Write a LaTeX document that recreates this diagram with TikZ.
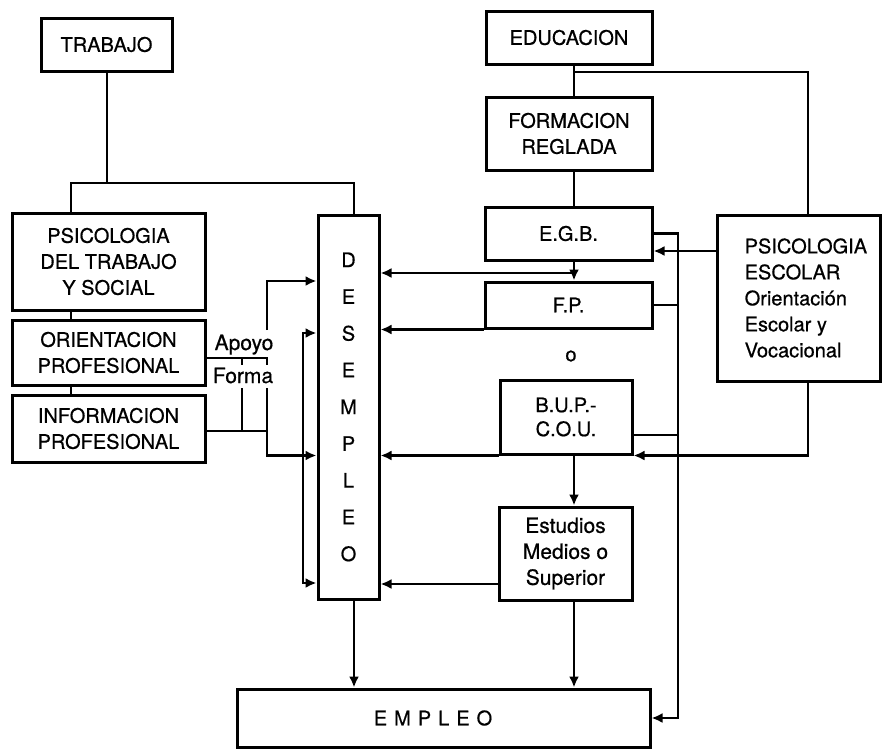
\documentclass[tikz,border=0pt]{standalone}
\usepackage{fontspec}
\setmainfont{TeX Gyre Heros}[FakeBold=0.6]
\usetikzlibrary{arrows.meta}
\begin{document}
\begin{tikzpicture}[x=1pt,y=-1pt,
  box/.style={draw, line width=3pt, inner sep=0pt, align=center, font=\fontsize{20pt}{26pt}\selectfont},
  con/.style={line width=2.8pt},
  arr/.style={con, -{Latex[length=11pt,width=10pt]}},
  arrtwo/.style={con, {Latex[length=11pt,width=10pt]}-{Latex[length=11pt,width=10pt]}},
  lbl/.style={inner sep=0pt, font=\fontsize{20pt}{26pt}\selectfont}]
\fill[white] (0,0) rectangle (883,750);
\useasboundingbox (0,0) rectangle (883,750);

% boxes
\node[box, minimum width=131pt, minimum height=53pt] (trabajo) at (106.5,44.5) {TRABAJO};
\node[box, minimum width=193pt, minimum height=97pt] (psitrab) at (108.5,261.5) {PSICOLOGIA\\DEL TRABAJO\\Y SOCIAL};
\node[box, minimum width=193pt, minimum height=65pt] (orient) at (108.5,352.5) {ORIENTACION\\PROFESIONAL};
\node[box, minimum width=193pt, minimum height=67pt] (inform) at (108.5,428.5) {INFORMACION\\PROFESIONAL};
\node[box, minimum width=61pt, minimum height=384pt, font=\fontsize{20pt}{36.75pt}\selectfont] (desempleo) at (348.5,407) {D\\E\\S\\E\\M\\P\\L\\E\\O};
\node[box, minimum width=166pt, minimum height=53pt] (educ) at (569,37.5) {EDUCACION};
\node[box, minimum width=166pt, minimum height=73pt] (formreg) at (569,133.5) {FORMACION\\REGLADA};
\node[box, minimum width=167pt, minimum height=53pt] (egb) at (568.5,233.5) {E.G.B.};
\node[box, minimum width=167pt, minimum height=46pt] (fp) at (568.5,305) {F.P.};
\node[lbl] (o) at (571,356) {o};
\node[box, minimum width=132pt, minimum height=74pt, font=\fontsize{20pt}{24pt}\selectfont] (bup) at (566,417) {B.U.P.-\\C.O.U.};
\node[box, minimum width=133pt, minimum height=93pt, font=\fontsize{21pt}{26pt}\selectfont] (estud) at (565.5,553.5) {Estudios\\Medios o\\Superior};
\node[box, minimum width=163pt, minimum height=166pt] (psiesc) at (798.5,298) {};
\node[lbl, anchor=west, align=left, xshift=29pt] (psiesctext) at (psiesc.west) {PSICOLOGIA\\ESCOLAR\\Orientación\\Escolar y\\Vocacional};
\node[box, minimum width=413pt, minimum height=58pt] (empleo) at (443.5,718) {E\kern7pt M\kern7pt P\kern7pt L\kern7pt E\kern7pt O\kern21pt};
\node[lbl, font=\fontsize{21pt}{26pt}\selectfont, anchor=base] (apoyo) at (244,350) {Apoyo};
\node[lbl, font=\fontsize{21pt}{26pt}\selectfont, anchor=base] (forma) at (243,383) {Forma};

% trabajo tree
\coordinate (tb) at (107,183);
\coordinate (tl) at (71,183);
\coordinate (tr) at (354,183);
\draw[con] (trabajo.south -| tb) -- (tb);
\draw[con] (psitrab.north -| tl) -- (tl) -- (tr) -- (desempleo.north -| tr);
\draw[con] (psitrab.south -| tl) -- (orient.north -| tl);
\draw[con] (orient.south -| tl) -- (inform.north -| tl);

% educacion tree
\coordinate (ex) at (574,72);
\coordinate (ex2) at (808,72);
\draw[con] (educ.south -| ex) -- (formreg.north -| ex);
\draw[con] (ex) -- (ex2) -- (psiesc.north -| ex2);
\draw[con] (formreg.south -| ex) -- (egb.north -| ex);
\coordinate (eb) at (574,273);
\draw[con] (egb.south -| eb) -- (eb);
\draw[arr] (eb) -- (desempleo.east |- eb);
\draw[arr] (eb) -- (fp.north -| eb);
\draw[arr] (fp.south west) -- (desempleo.east |- fp.south west);
\draw[arr] (bup.south west) -- (desempleo.east |- bup.south west);
\draw[arr] (bup.south -| eb) -- (estud.north -| eb);
\coordinate (ey) at (499,584);
\draw[arr] (estud.west |- ey) -- (desempleo.east |- ey);
\draw[arr] (estud.south -| eb) -- (empleo.north -| eb);
\draw[arr] (desempleo.south -| tr) -- (empleo.north -| tr);

% right bus
\coordinate (bx) at (678,233.5);
\draw[arr] (egb.east) -- (bx) -- (bx |- empleo.east) -- (empleo.east);
\draw[con] (fp.east) -- (fp.east -| bx);
\coordinate (bq) at (678,435);
\draw[con] (bup.east |- bq) -- (bq);
\coordinate (py) at (717,251);
\draw[arr] (psiesc.west |- py) -- (egb.east |- py);
\draw[arr] (psiesc.south -| ex2) |- (bup.south east);

% left side
\coordinate (ol) at (267,358);
\coordinate (ot) at (242,358);
\draw[con] (orient.east |- ol) -- (ol) -- ++(0,7);
\draw[con] (ot) -- ++(0,7);
\coordinate (fa) at (242,388);
\coordinate (fb) at (267,388);
\coordinate (iy) at (242,431);
\draw[con] (inform.east |- iy) -- (iy -| fb);
\draw[con] (fa) -- (iy);
\draw[arr] (fb) |- (desempleo.west |- bup.south west);
\coordinate (au) at (267,330);
\coordinate (ay) at (300,281);
\draw[arr] (au) |- (desempleo.west |- ay);
\coordinate (k1) at (303,333);
\coordinate (k2) at (303,583);
\draw[arrtwo] (desempleo.west |- k1) -- (k1) -- (k2) -- (desempleo.west |- k2);
\end{tikzpicture}
\end{document}
